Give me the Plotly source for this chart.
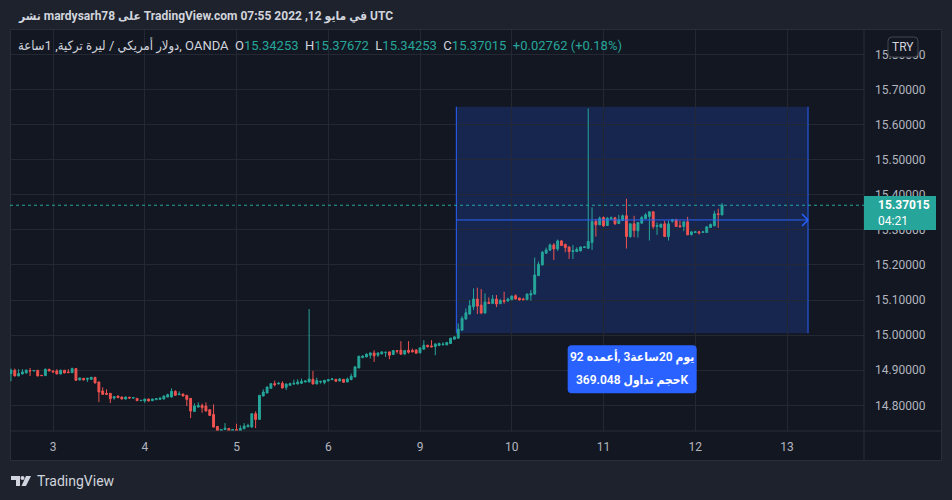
import plotly.graph_objects as go

# ---------------- data (hourly USD/TRY candles, OANDA) ----------------
open_ = [
14.8905, 14.9000, 14.8838, 14.8895, 14.8924, 14.8990, 14.8981, 14.9000, 14.8857, 14.8848,
14.9029, 14.8981, 14.8981, 14.8895, 14.9000, 14.8952, 14.8933, 14.9048, 14.8724, 14.8771,
14.8743, 14.8743, 14.8800, 14.8667, 14.8410, 14.8343, 14.8343, 14.8210, 14.8267, 14.8238,
14.8181, 14.8229, 14.8210, 14.8200, 14.8133, 14.8124, 14.8181, 14.8133, 14.8162, 14.8171,
14.8181, 14.8238, 14.8238, 14.8400, 14.8305, 14.8324, 14.8286, 14.8200, 14.7829, 14.7952,
14.8000, 14.7981, 14.7876, 14.7743, 14.7400, 14.7262, 14.7314, 14.7343, 14.7262, 14.7314,
14.7262, 14.7333, 14.7390, 14.7381, 14.7762, 14.7600, 14.8267, 14.8352, 14.8486, 14.8619,
14.8610, 14.8629, 14.8514, 14.8571, 14.8610, 14.8610, 14.8629, 14.8667, 14.8667, 14.8743,
14.8610, 14.8667, 14.8648, 14.8695, 14.8733, 14.8743, 14.8695, 14.8743, 14.8667, 14.8733,
14.8810, 14.9067, 14.9362, 14.9381, 14.9429, 14.9495, 14.9429, 14.9467, 14.9505, 14.9524,
14.9448, 14.9562, 14.9571, 14.9467, 14.9571, 14.9562, 14.9581, 14.9495, 14.9600, 14.9714,
14.9695, 14.9676, 14.9705, 14.9724, 14.9724, 14.9762, 14.9886, 14.9914, 15.0144, 15.0458,
15.0601, 15.0810, 15.1030, 15.0858, 15.0630, 15.0934, 15.0906, 15.1030, 15.0896, 15.0991,
15.0972, 15.1010, 15.1125, 15.1058, 15.1030, 15.1010, 15.1144, 15.1172, 15.1696, 15.2001,
15.2334, 15.2420, 15.2572, 15.2458, 15.2686, 15.2591, 15.2515, 15.2382, 15.2382, 15.2401,
15.2496, 15.2477, 15.2639, 15.3239, 15.3144, 15.3353, 15.3125, 15.3315, 15.3344, 15.3182,
15.3268, 15.3401, 15.2811, 15.3173, 15.2973, 15.3192, 15.3325, 15.3382, 15.3515, 15.3096,
15.3077, 15.3173, 15.2811, 15.3249, 15.3287, 15.3115, 15.3096, 15.3230, 15.2868, 15.2925,
15.2944, 15.2925, 15.2925, 15.3068, 15.3115, 15.3458, 15.34253,
]
high = [
14.9048, 14.9048, 14.9029, 14.9029, 14.9029, 14.9067, 14.9005, 14.9005, 14.8860, 14.9048,
14.9038, 14.8990, 14.9029, 14.9019, 14.9010, 14.9029, 14.9076, 14.9057, 14.8790, 14.8781,
14.8781, 14.8810, 14.8810, 14.8676, 14.8514, 14.8457, 14.8352, 14.8257, 14.8276, 14.8248,
14.8248, 14.8248, 14.8229, 14.8210, 14.8152, 14.8190, 14.8190, 14.8190, 14.8200, 14.8219,
14.8276, 14.8333, 14.8486, 14.8429, 14.8400, 14.8333, 14.8295, 14.8210, 14.8057, 14.8086,
14.8048, 14.8086, 14.7886, 14.8029, 14.7410, 14.7324, 14.7495, 14.7352, 14.7324, 14.7476,
14.7429, 14.7495, 14.7476, 14.7771, 14.7829, 14.8295, 14.8457, 14.8533, 14.8629, 14.8705,
14.8667, 14.8686, 14.8619, 14.8648, 14.8733, 14.8743, 14.8762, 14.8705, 15.0743, 14.8981,
14.8790, 14.8695, 14.8724, 14.8743, 14.8781, 14.8752, 14.8781, 14.8752, 14.8790, 14.8905,
14.9124, 14.9410, 14.9429, 14.9486, 14.9505, 14.9571, 14.9505, 14.9543, 14.9524, 14.9533,
14.9571, 14.9571, 14.9829, 14.9571, 14.9829, 14.9620, 14.9590, 14.9648, 14.9857, 14.9724,
14.9857, 14.9762, 14.9791, 14.9800, 14.9810, 14.9924, 14.9962, 15.0333, 15.0544, 15.0763,
15.1001, 15.1334, 15.1353, 15.1315, 15.1191, 15.1077, 15.1144, 15.1144, 15.1030, 15.1239,
15.1068, 15.1125, 15.1163, 15.1068, 15.1068, 15.1182, 15.1287, 15.2210, 15.2096, 15.2400,
15.2496, 15.2610, 15.2620, 15.2724, 15.2715, 15.2600, 15.2525, 15.2572, 15.2505, 15.2525,
15.2543, 15.6457, 15.3639, 15.3315, 15.3382, 15.3382, 15.3363, 15.3382, 15.3372, 15.3430,
15.3439, 15.3887, 15.3182, 15.3401, 15.3221, 15.3401, 15.3477, 15.3525, 15.3534, 15.3211,
15.3173, 15.3258, 15.3268, 15.3315, 15.3315, 15.3268, 15.3240, 15.3372, 15.2954, 15.2973,
15.2973, 15.2954, 15.3096, 15.3182, 15.3544, 15.3601, 15.37672,
]
low = [
14.8686, 14.8829, 14.8829, 14.8886, 14.8914, 14.8838, 14.8975, 14.8829, 14.8838, 14.8838,
14.8971, 14.8943, 14.8886, 14.8886, 14.8914, 14.8924, 14.8924, 14.8705, 14.8714, 14.8714,
14.8667, 14.8733, 14.8629, 14.8095, 14.8305, 14.8305, 14.8067, 14.8162, 14.8210, 14.8171,
14.8171, 14.8181, 14.8190, 14.8124, 14.8124, 14.8076, 14.8114, 14.8124, 14.8152, 14.8162,
14.8171, 14.8229, 14.8229, 14.8276, 14.8295, 14.8257, 14.7981, 14.7638, 14.7819, 14.7943,
14.7790, 14.7829, 14.7705, 14.7371, 14.7240, 14.7240, 14.7305, 14.7240, 14.7240, 14.7240,
14.7240, 14.7324, 14.7381, 14.7371, 14.7352, 14.7590, 14.8257, 14.8343, 14.8476, 14.8543,
14.8600, 14.8486, 14.8438, 14.8562, 14.8581, 14.8600, 14.8619, 14.8657, 14.8657, 14.8600,
14.8600, 14.8619, 14.8600, 14.8686, 14.8724, 14.8676, 14.8686, 14.8648, 14.8657, 14.8724,
14.8800, 14.9057, 14.9343, 14.9371, 14.9333, 14.9238, 14.9381, 14.9457, 14.9381, 14.9314,
14.9438, 14.9476, 14.9448, 14.9429, 14.9476, 14.9514, 14.9476, 14.9486, 14.9590, 14.9657,
14.9657, 14.9429, 14.9695, 14.9714, 14.9714, 14.9752, 14.9876, 14.9905, 15.0134, 15.0448,
15.0591, 15.0715, 15.0601, 15.0601, 15.0620, 15.0887, 15.0896, 15.0801, 15.0887, 15.0896,
15.0963, 15.1000, 15.1020, 15.0990, 15.1000, 15.1000, 15.0982, 15.1163, 15.1686, 15.1991,
15.2324, 15.2410, 15.2143, 15.2400, 15.2543, 15.2362, 15.2172, 15.2172, 15.2372, 15.2391,
15.2486, 15.2458, 15.2430, 15.2811, 15.3134, 15.3087, 15.3115, 15.3287, 15.3144, 15.3173,
15.3258, 15.2468, 15.2773, 15.2792, 15.2782, 15.3182, 15.3315, 15.2697, 15.3030, 15.2859,
15.3058, 15.2801, 15.2697, 15.3211, 15.3087, 15.3077, 15.2963, 15.2850, 15.2839, 15.2915,
15.2868, 15.2915, 15.2915, 15.3058, 15.3106, 15.3058, 15.34253,
]
close = [
14.9000, 14.8838, 14.8905, 14.8952, 14.9000, 14.8981, 14.8995, 14.8838, 14.8848, 14.9029,
14.8981, 14.8952, 14.8895, 14.9000, 14.8924, 14.8933, 14.9048, 14.8714, 14.8781, 14.8724,
14.8771, 14.8800, 14.8638, 14.8381, 14.8314, 14.8314, 14.8190, 14.8248, 14.8219, 14.8181,
14.8238, 14.8210, 14.8219, 14.8133, 14.8143, 14.8181, 14.8124, 14.8181, 14.8190, 14.8210,
14.8267, 14.8305, 14.8400, 14.8286, 14.8324, 14.8267, 14.8171, 14.7838, 14.7981, 14.8000,
14.7933, 14.7838, 14.7714, 14.7381, 14.7262, 14.7314, 14.7352, 14.7262, 14.7314, 14.7262,
14.7343, 14.7410, 14.7429, 14.7762, 14.7600, 14.8286, 14.8381, 14.8524, 14.8619, 14.8590,
14.8629, 14.8495, 14.8610, 14.8619, 14.8629, 14.8667, 14.8686, 14.8695, 14.8752, 14.8610,
14.8705, 14.8686, 14.8714, 14.8733, 14.8752, 14.8686, 14.8752, 14.8658, 14.8752, 14.8829,
14.9096, 14.9400, 14.9400, 14.9457, 14.9495, 14.9410, 14.9495, 14.9524, 14.9514, 14.9429,
14.9562, 14.9543, 14.9457, 14.9562, 14.9514, 14.9524, 14.9486, 14.9638, 14.9714, 14.9667,
14.9667, 14.9752, 14.9762, 14.9743, 14.9791, 14.9914, 14.9952, 15.0171, 15.0477, 15.0639,
15.0839, 15.1030, 15.0829, 15.0630, 15.0944, 15.0906, 15.1030, 15.0887, 15.0991, 15.0963,
15.1030, 15.1115, 15.1030, 15.1001, 15.1010, 15.1172, 15.1191, 15.1715, 15.2020, 15.2362,
15.2429, 15.2572, 15.2458, 15.2686, 15.2553, 15.2496, 15.2382, 15.2410, 15.2448, 15.2515,
15.2515, 15.2668, 15.3239, 15.3144, 15.3334, 15.3115, 15.3334, 15.3344, 15.3173, 15.3287,
15.3401, 15.2811, 15.3173, 15.2982, 15.3211, 15.3353, 15.3430, 15.3515, 15.3096, 15.3125,
15.3163, 15.2811, 15.3173, 15.3287, 15.3096, 15.3087, 15.3230, 15.2859, 15.2944, 15.2944,
15.2915, 15.2944, 15.3087, 15.3154, 15.3458, 15.3439, 15.37015,
]

# bar index of each day start (trading hours only) and the day labels
day_tick_bars = [11, 35, 59, 83, 107, 131, 155, 179, 203]
day_tick_labels = ["3", "4", "5", "6", "9", "10", "11", "12", "13"]
price_ticks = [14.8, 14.9, 15.0, 15.1, 15.2, 15.3, 15.4, 15.5, 15.6, 15.7, 15.8]

last_price = 15.37015
countdown = "04:21"
legend_ohlc = ["15.34253", "15.37672", "15.34253", "15.37015"]
legend_change = "+0.02762 (+0.18%)"

# date & price range drawing
range_start_bar = 116.5
range_bars = 92
range_top = 15.651
range_bottom = 15.0057
range_text_1 = "يوم 20ساعة3 ,أعمده 92"
range_text_2 = "حجم تداول 369.048K"

header_text = "نشر mardysarh78 على TradingView.com في مايو 12, 2022 07:55 UTC"
symbol_text = "دولار أمريكي / ليرة تركية, 1ساعة, OANDA"

# ---------------- styling ----------------
UP = "#26a69a"
DOWN = "#ef5350"
BG = "#131722"
OUTER = "#1e222d"
GRID = "#242834"
BORDER = "#2a2e39"
TXT = "#d1d4dc"
AX = "#b2b5be"
BLUE = "#2962ff"
FONT = "Roboto, DejaVu Sans Condensed, DejaVu Sans, sans-serif"

W, H = 952, 500
PL, PR, PT, PB = 10, 864, 30, 431


def px(x):
    return (x - PL) / (PR - PL)


def py(y):
    return (PB - y) / (PB - PT)


def rrect(x0, y0, x1, y1, r):
    pts = [
        f"M{px(x0 + r)},{py(y0)}", f"L{px(x1 - r)},{py(y0)}", f"Q{px(x1)},{py(y0)} {px(x1)},{py(y0 + r)}",
        f"L{px(x1)},{py(y1 - r)}", f"Q{px(x1)},{py(y1)} {px(x1 - r)},{py(y1)}",
        f"L{px(x0 + r)},{py(y1)}", f"Q{px(x0)},{py(y1)} {px(x0)},{py(y1 - r)}",
        f"L{px(x0)},{py(y0 + r)}", f"Q{px(x0)},{py(y0)} {px(x0 + r)},{py(y0)}", "Z",
    ]
    return " ".join(pts)


def poly(points):
    return "M" + " L".join(f"{px(a)},{py(b)}" for a, b in points) + " Z"


bars = list(range(len(close)))

fig = go.Figure()
fig.add_trace(go.Candlestick(
    x=bars, open=open_, high=high, low=low, close=close,
    increasing=dict(line=dict(color=UP, width=1), fillcolor=UP),
    decreasing=dict(line=dict(color=DOWN, width=1), fillcolor=DOWN),
    whiskerwidth=0, hoverinfo="skip", showlegend=False,
))

range_end_bar = range_start_bar + range_bars
range_mid_bar = range_start_bar + range_bars / 2
range_mid_price = (range_top + range_bottom) / 2

shapes = [
    # chart frame
    dict(type="rect", xref="paper", yref="paper", x0=px(10.5), x1=px(941.5), y0=py(460.5), y1=py(29.5),
         fillcolor=BG, line=dict(color=BORDER, width=1), layer="below"),
    # price-axis / time-axis separators
    dict(type="line", xref="paper", yref="paper", x0=1, x1=1, y0=py(460.5), y1=py(29.5),
         line=dict(color=BORDER, width=1), layer="above"),
    dict(type="line", xref="paper", yref="paper", x0=px(10.5), x1=px(941.5), y0=0, y1=0,
         line=dict(color=BORDER, width=1), layer="above"),
    # range box
    dict(type="rect", xref="x", yref="y", x0=range_start_bar, x1=range_end_bar, y0=range_bottom, y1=range_top,
         fillcolor="rgba(41,98,255,0.2)", line=dict(width=0), layer="below"),
    dict(type="line", xref="x", yref="y", x0=range_start_bar, x1=range_start_bar, y0=range_bottom, y1=range_top,
         line=dict(color=BLUE, width=1)),
    dict(type="line", xref="x", yref="y", x0=range_end_bar, x1=range_end_bar, y0=range_bottom, y1=range_top,
         line=dict(color=BLUE, width=1)),
    dict(type="line", xref="x", yref="y", x0=range_start_bar, x1=range_end_bar, y0=range_mid_price, y1=range_mid_price,
         line=dict(color=BLUE, width=1)),
    dict(type="line", xref="x", yref="y", xsizemode="pixel", ysizemode="pixel", xanchor=range_end_bar,
         yanchor=range_mid_price, x0=-6, x1=0, y0=6, y1=0, line=dict(color=BLUE, width=1.5)),
    dict(type="line", xref="x", yref="y", xsizemode="pixel", ysizemode="pixel", xanchor=range_end_bar,
         yanchor=range_mid_price, x0=-6, x1=0, y0=-6, y1=0, line=dict(color=BLUE, width=1.5)),
    # range label box
    dict(type="path", xref="x", yref="y", xsizemode="pixel", ysizemode="pixel", xanchor=range_mid_bar,
         yanchor=range_bottom,
         path="M-60.5,-12 L60.5,-12 Q64.5,-12 64.5,-16 L64.5,-56 Q64.5,-60 60.5,-60 L-60.5,-60 "
              "Q-64.5,-60 -64.5,-56 L-64.5,-16 Q-64.5,-12 -60.5,-12 Z",
         fillcolor=BLUE, line=dict(width=0), layer="above"),
    # last price dotted line
    dict(type="line", xref="paper", yref="y", x0=0, x1=1, y0=last_price, y1=last_price,
         line=dict(color=UP, width=1, dash="dot")),
    # last price label
    dict(type="rect", xref="paper", yref="paper", x0=1, x1=px(936), y0=py(230), y1=py(196),
         fillcolor=UP, line=dict(width=0), layer="above"),
    # currency badge
    dict(type="path", xref="paper", yref="paper", path=rrect(888, 37, 918, 57, 4),
         fillcolor=BG, line=dict(color="#434651", width=1), layer="above"),
    # TradingView logo
    dict(type="path", xref="paper", yref="paper",
         path=poly([(11, 476), (20, 476), (20, 486), (16, 486), (16, 480), (11, 480)]),
         fillcolor=TXT, line=dict(width=0), layer="above"),
    dict(type="circle", xref="paper", yref="paper", x0=px(20.5), x1=px(24.5), y0=py(480), y1=py(476),
         fillcolor=TXT, line=dict(width=0), layer="above"),
    dict(type="path", xref="paper", yref="paper",
         path=poly([(26, 476), (31, 476), (26, 486), (21.5, 486)]),
         fillcolor=TXT, line=dict(width=0), layer="above"),
]

ohlc_labels = ["O", "H", "L", "C"]
legend_parts = [f'<span style="color:{TXT}">{symbol_text}\u00a0\u00a0</span>']
for lab, val in zip(ohlc_labels, legend_ohlc):
    legend_parts.append(f'<span style="color:{TXT}">{lab}</span><span style="color:{UP}">{val}\u00a0\u00a0</span>')
legend_parts.append(f'<span style="color:{UP}">{legend_change}</span>')

annotations = [
    dict(xref="paper", yref="paper", x=px(16), y=py(17), xanchor="left", yanchor="middle", showarrow=False,
         text=header_text, font=dict(size=12, color=TXT, family=FONT, weight=700)),
    dict(xref="paper", yref="paper", x=px(16), y=py(46), xanchor="left", yanchor="middle", showarrow=False,
         text="".join(legend_parts), font=dict(size=13, color=TXT, family=FONT)),
    dict(xref="paper", yref="paper", x=px(903), y=py(47), xanchor="center", yanchor="middle", showarrow=False,
         text="TRY", font=dict(size=12, color=TXT, family=FONT)),
    dict(xref="paper", yref="paper", x=px(876), y=py(205), xanchor="left", yanchor="middle", showarrow=False,
         text=f"{last_price:.5f}", font=dict(size=12, color="#ffffff", family=FONT, weight=700)),
    dict(xref="paper", yref="paper", x=px(876), y=py(221), xanchor="left", yanchor="middle", showarrow=False,
         text=countdown, font=dict(size=12, color="#ffffff", family=FONT)),
    dict(xref="x", yref="y", x=range_mid_bar, y=range_bottom, yshift=-24, xanchor="center", yanchor="middle",
         showarrow=False, text=range_text_1, font=dict(size=12, color="#ffffff", family=FONT, weight=600)),
    dict(xref="x", yref="y", x=range_mid_bar, y=range_bottom, yshift=-47, xanchor="center", yanchor="middle",
         showarrow=False, text=range_text_2, font=dict(size=12, color="#ffffff", family=FONT, weight=600)),
    dict(xref="paper", yref="paper", x=px(35), y=py(481), xanchor="left", yanchor="middle", showarrow=False,
         text="TradingView", font=dict(size=14, color=TXT, family=FONT)),
]

x_lo = day_tick_bars[0] - (53 - PL) / 3.823
x_hi = day_tick_bars[0] + (PR - 53) / 3.823

fig.update_layout(
    width=W, height=H,
    margin=dict(l=PL, r=W - PR, t=PT, b=H - PB),
    paper_bgcolor=OUTER, plot_bgcolor=BG,
    font=dict(family=FONT, color=AX, size=12),
    showlegend=False, dragmode=False,
    shapes=shapes, annotations=annotations,
    xaxis=dict(
        range=[x_lo, x_hi], tickmode="array", tickvals=day_tick_bars, ticktext=day_tick_labels,
        showgrid=True, gridcolor=GRID, gridwidth=1, zeroline=False, showline=False, ticks="",
        tickfont=dict(size=12, color=AX, family=FONT), ticklabelstandoff=7,
        rangeslider=dict(visible=False), fixedrange=True,
    ),
    yaxis=dict(
        side="right", range=[14.727, 15.8695], tickmode="array", tickvals=price_ticks,
        ticktext=[f"{v:.5f}" for v in price_ticks],
        showgrid=True, gridcolor=GRID, gridwidth=1, zeroline=False, showline=False, ticks="",
        tickfont=dict(size=12, color=AX, family=FONT), ticklabelstandoff=10, fixedrange=True,
    ),
)

fig.write_html(
    "out.html",
    config={"displayModeBar": False, "staticPlot": True},
    post_script="document.body.style.margin='0px';document.body.style.background='#1e222d';",
)
